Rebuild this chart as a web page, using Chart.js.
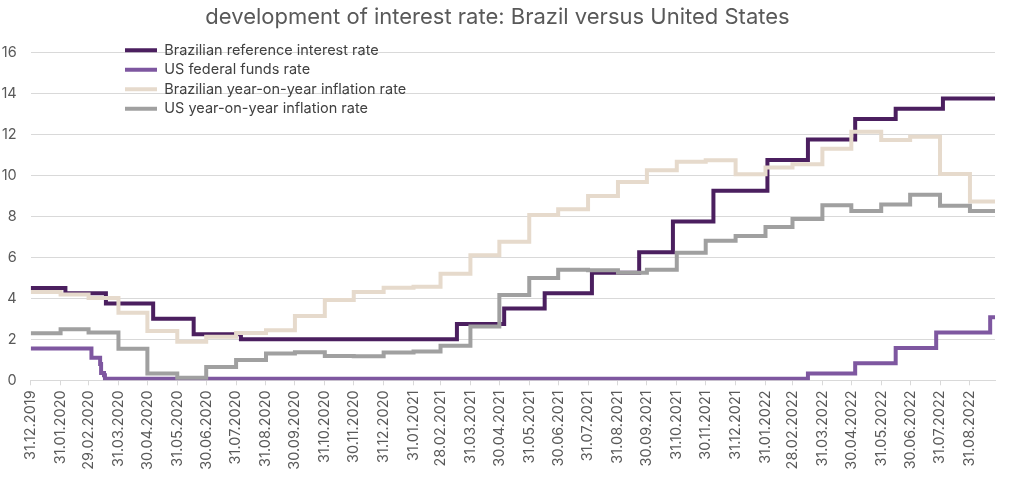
<!DOCTYPE html>
<html>
<head>
<meta charset="utf-8">
<script src="https://cdn.jsdelivr.net/npm/chart.js@4.4.0/dist/chart.umd.min.js"></script>
<style>
  html, body { margin: 0; padding: 0; background: #ffffff; }
  #wrap { width: 1012px; height: 482px; }
</style>
</head>
<body>
<div id="wrap"><canvas id="c" width="1012" height="482"></canvas></div>
<script>
const chartTitle = 'development of interest rate: Brazil versus United States';
const seriesNames = [
  'Brazilian reference interest rate',
  'US federal funds rate',
  'Brazilian year-on-year inflation rate',
  'US year-on-year inflation rate'
];
const startDate = '31.12.2019';
const endDate = '26.09.2022';

// x-axis tick labels (month ends); also the dates of the monthly inflation values
const tickLabels = [
  '31.12.2019','31.01.2020','29.02.2020','31.03.2020','30.04.2020','31.05.2020','30.06.2020',
  '31.07.2020','31.08.2020','30.09.2020','31.10.2020','30.11.2020','31.12.2020','31.01.2021',
  '28.02.2021','31.03.2021','30.04.2021','31.05.2021','30.06.2021','31.07.2021','31.08.2021',
  '30.09.2021','31.10.2021','30.11.2021','31.12.2021','31.01.2022','28.02.2022','31.03.2022',
  '30.04.2022','31.05.2022','30.06.2022','31.07.2022','31.08.2022'
];
const yTicks = [0, 2, 4, 6, 8, 10, 12, 14, 16];

// Brazilian reference interest rate (Selic target) – change dates and values
const selicDates = [
  '31.12.2019','05.02.2020','18.03.2020','06.05.2020','17.06.2020','05.08.2020',
  '17.03.2021','05.05.2021','16.06.2021','04.08.2021','22.09.2021','27.10.2021',
  '08.12.2021','02.02.2022','16.03.2022','04.05.2022','15.06.2022','03.08.2022'
];
const selicValues = [4.50, 4.25, 3.75, 3.00, 2.25, 2.00, 2.75, 3.50, 4.25, 5.25, 6.25, 7.75, 9.25, 10.75, 11.75, 12.75, 13.25, 13.75];

// US federal funds rate – change dates and values
const ffrDates = [
  '31.12.2019','03.03.2020','12.03.2020','13.03.2020','16.03.2020','17.03.2020',
  '16.03.2022','04.05.2022','15.06.2022','27.07.2022','21.09.2022'
];
const ffrValues = [1.55, 1.10, 0.80, 0.36, 0.25, 0.08, 0.33, 0.83, 1.58, 2.33, 3.08];

// monthly inflation values (one per month end in tickLabels)
const brInflation = [
  4.31, 4.19, 4.01, 3.30, 2.40, 1.88, 2.13, 2.31, 2.44, 3.14, 3.92, 4.31, 4.52, 4.56,
  5.20, 6.10, 6.76, 8.06, 8.35, 8.99, 9.68, 10.25, 10.67, 10.74, 10.06, 10.38, 10.54, 11.30,
  12.13, 11.73, 11.89, 10.07, 8.73
];
const usInflation = [
  2.29, 2.49, 2.33, 1.54, 0.33, 0.12, 0.65, 0.99, 1.31, 1.37, 1.18, 1.17, 1.36, 1.40,
  1.68, 2.62, 4.16, 4.99, 5.39, 5.37, 5.25, 5.39, 6.22, 6.81, 7.04, 7.48, 7.87, 8.54,
  8.26, 8.58, 9.06, 8.52, 8.26
];

const colors = ['#4B1F5F', '#7E57A0', '#E6DACC', '#A0A0A0'];

function dayIndex(s) {
  const [d, m, y] = s.split('.').map(Number);
  const [d0, m0, y0] = startDate.split('.').map(Number);
  return Math.round((Date.UTC(y, m - 1, d) - Date.UTC(y0, m0 - 1, d0)) / 86400000);
}
function stepPoints(dates, values) {
  const pts = dates.map((d, i) => ({ x: dayIndex(d), y: values[i] }));
  pts.push({ x: dayIndex(endDate), y: values[values.length - 1] });
  return pts;
}

const seriesData = [
  stepPoints(selicDates, selicValues),
  stepPoints(ffrDates, ffrValues),
  stepPoints(tickLabels, brInflation),
  stepPoints(tickLabels, usInflation)
];

const FONT = 'Inter';
const TEXT = '#595959';

const legendPlacer = {
  id: 'legendPlacer',
  beforeDraw(chart) {
    const lg = chart.legend;
    if (!lg) return;
    const pad = 5;
    lg.left = 125 - pad;
    lg.right = 900;
    lg.top = 43 - pad;
    lg.bottom = 300;
  }
};

new Chart(document.getElementById('c'), {
  type: 'line',
  data: {
    datasets: seriesNames.map((name, i) => ({
      label: name,
      data: seriesData[i],
      borderColor: colors[i],
      backgroundColor: colors[i],
      borderWidth: 4,
      stepped: 'before',
      pointRadius: 0,
      fill: false,
      order: seriesNames.length - 1 - i
    }))
  },
  options: {
    responsive: false,
    animation: false,
    layout: { padding: { left: 0, right: 17, top: 0, bottom: 0 } },
    plugins: {
      title: {
        display: true,
        text: chartTitle,
        color: TEXT,
        font: { family: FONT, size: 22, weight: 'normal' },
        padding: { top: 4, bottom: 22 }
      },
      legend: {
        position: 'chartArea',
        align: 'start',
        labels: {
          boxWidth: 32,
          boxHeight: 4,
          padding: 5,
          color: '#404040',
          font: { family: FONT, size: 14.5 },
          generateLabels: (chart) => chart.data.datasets.map((ds, i) => ({
            text: ds.label,
            fillStyle: ds.borderColor,
            strokeStyle: ds.borderColor,
            lineWidth: 0,
            hidden: false,
            datasetIndex: i,
            fontColor: '#404040'
          }))
        }
      },
      tooltip: { enabled: false }
    },
    scales: {
      x: {
        type: 'linear',
        min: 0,
        max: dayIndex(endDate),
        afterBuildTicks: (axis) => { axis.ticks = tickLabels.map(t => ({ value: dayIndex(t) })); },
        afterFit: (axis) => { axis.height = 101.7; },
        ticks: {
          autoSkip: false,
          maxRotation: 90,
          minRotation: 90,
          padding: 5,
          color: TEXT,
          font: { family: FONT, size: 14.5 },
          callback: (v, i) => tickLabels[i]
        },
        grid: { drawOnChartArea: false, drawTicks: true, tickLength: 5, color: '#D9D9D9' },
        border: { color: '#D9D9D9' }
      },
      y: {
        min: 0,
        max: 16,
        afterBuildTicks: (axis) => { axis.ticks = yTicks.map(v => ({ value: v })); },
        afterFit: (axis) => { axis.width = 30.7; },
        ticks: {
          padding: 14,
          color: TEXT,
          font: { family: FONT, size: 14.5 }
        },
        grid: { color: '#D9D9D9', drawTicks: false },
        border: { display: false }
      }
    }
  },
  plugins: [legendPlacer]
});
</script>
</body>
</html>
